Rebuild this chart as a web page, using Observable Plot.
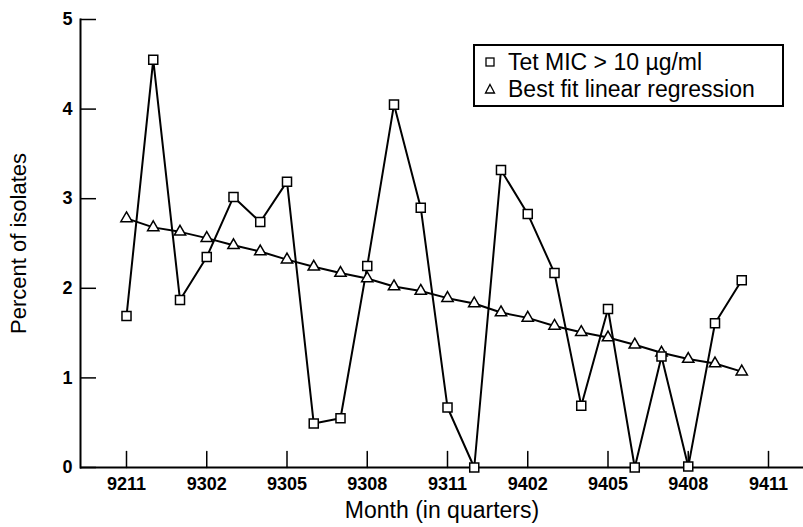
<!DOCTYPE html>
<html>
<head>
<meta charset="utf-8">
<script src="https://cdn.jsdelivr.net/npm/d3@7"></script>
<script src="https://cdn.jsdelivr.net/npm/@observablehq/plot@0.6"></script>
<style>
  html, body { margin: 0; padding: 0; background: #fff; }
  #wrap { position: relative; width: 803px; height: 527px; font-family: "Liberation Sans", Arial, sans-serif; }
  #legend { position: absolute; left: 473px; top: 44px; width: 307px; height: 59px; border: 2px solid #000; background: #fff; font-size: 23px; color: #000; }
  #legend .row { position: absolute; left: 0; height: 28px; line-height: 28px; white-space: nowrap; }
  #legend svg { position: absolute; left: 8px; top: 7px; }
  #legend span { position: absolute; left: 33px; top: 0; }
</style>
</head>
<body>
<div id="wrap"></div>
<script>
// Months (yymm), one observation per month
const months = ["9211","9212","9301","9302","9303","9304","9305","9306","9307","9308","9309","9310","9311","9312","9401","9402","9403","9404","9405","9406","9407","9408","9409","9410"];
// Tet MIC > 10 µg/ml (percent of isolates)
const tetMIC = [1.69,4.55,1.87,2.35,3.02,2.74,3.19,0.49,0.55,2.25,4.05,2.90,0.67,0.00,3.32,2.83,2.17,0.69,1.77,0.00,1.24,0.01,1.61,2.09];
// Best fit linear regression
const regression = [2.78,2.68,2.63,2.56,2.48,2.41,2.32,2.24,2.17,2.11,2.02,1.97,1.89,1.83,1.73,1.67,1.58,1.51,1.45,1.37,1.28,1.21,1.16,1.07];
// Axis ticks
const xTickLabels = ["9211","9302","9305","9308","9311","9402","9405","9408","9411"];
const yTicks = [0,1,2,3,4,5];
const seriesNames = ["Tet MIC > 10 \u00b5g/ml", "Best fit linear regression"];
const yLabel = "Percent of isolates";
const xLabel = "Month (in quarters)";

const monthNum = s => Math.floor(+s / 100) * 12 + (+s % 100);
const base = monthNum(months[0]);
const idx = s => monthNum(s) - base;

const dataTet = months.map((m, i) => ({x: idx(m), y: tetMIC[i]}));
const dataReg = months.map((m, i) => ({x: idx(m), y: regression[i]}));
const xTickPos = xTickLabels.map(idx);

const font = '"Liberation Sans", Arial, sans-serif';
const tickShape = {draw(context, l) { context.moveTo(0, 0); context.lineTo(0, -l); }};

const chart = Plot.plot({
  width: 803,
  height: 527,
  marginLeft: 80,
  marginRight: 0,
  marginTop: 19,
  marginBottom: 60,
  style: {fontFamily: font, background: "#fff", color: "#000", overflow: "visible"},
  x: {domain: [0, xTickPos[xTickPos.length - 1]], range: [126, 768]},
  y: {domain: [0, 5]},
  marks: [
    Plot.frame({anchor: "left", stroke: "#000", strokeWidth: 2}),
    Plot.ruleY([0], {stroke: "#000", strokeWidth: 2}),
    Plot.axisY(yTicks, {tickSize: -16, tickPadding: 24, strokeWidth: 1.5, fontSize: 18, fontWeight: "bold", tickFormat: d => String(d), label: null}),
    Plot.axisX(xTickPos, {tickSize: 0, tickPadding: 10, fontSize: 18, fontWeight: "bold", tickFormat: (d, i) => xTickLabels[i], label: null}),
    Plot.vector(xTickPos, {x: d => d, frameAnchor: "bottom", length: 16, anchor: "start", shape: tickShape, stroke: "#000", strokeWidth: 1.5}),
    Plot.text([yLabel], {frameAnchor: "left", textAnchor: "middle", dx: -62, rotate: -90, fontSize: 22, text: d => d}),
    Plot.text([xLabel], {frameAnchor: "bottom", textAnchor: "middle", dy: 50, fontSize: 23, text: d => d}),
    Plot.line(dataReg, {x: "x", y: "y", stroke: "#000", strokeWidth: 2}),
    Plot.line(dataTet, {x: "x", y: "y", stroke: "#000", strokeWidth: 2}),
    Plot.dot(dataReg, {x: "x", y: "y", symbol: "triangle", r: 4.2, fill: "#fff", stroke: "#000", strokeWidth: 1.5}),
    Plot.dot(dataTet, {x: "x", y: "y", symbol: "square", r: 5.1, fill: "#fff", stroke: "#000", strokeWidth: 1.5})
  ]
});

const wrap = document.getElementById("wrap");
wrap.appendChild(chart);

const legend = document.createElement("div");
legend.id = "legend";
const sq = '<svg width="14" height="14" viewBox="0 0 14 14"><rect x="3" y="3" width="8" height="8" fill="#fff" stroke="#000" stroke-width="1.3"/></svg>';
const tri = '<svg width="14" height="14" viewBox="0 0 14 14"><path d="M7,2.5 L11.5,11 L2.5,11 Z" fill="#fff" stroke="#000" stroke-width="1.3"/></svg>';
legend.innerHTML =
  '<div class="row" style="top:1.5px">' + sq + '<span>' + seriesNames[0] + '</span></div>' +
  '<div class="row" style="top:28.5px">' + tri + '<span>' + seriesNames[1] + '</span></div>';
wrap.appendChild(legend);
</script>
</body>
</html>
